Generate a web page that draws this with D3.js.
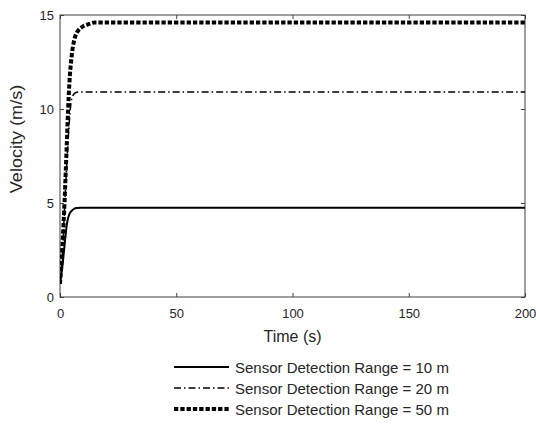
<!DOCTYPE html>
<html><head><meta charset="utf-8">
<script src="https://cdn.jsdelivr.net/npm/d3@7"></script>
<style>
body{margin:0;background:#fff;}
text{font-family:"Liberation Sans",Arial,sans-serif;fill:#262626;}
</style></head>
<body><svg id="c" width="536" height="425"></svg>
<script>
const xTicks=[0,50,100,150,200];
const yTicks=[0,5,10,15];
const seriesNames=["Sensor Detection Range = 10 m","Sensor Detection Range = 20 m","Sensor Detection Range = 50 m"];
const t10=[0,1,2,3,3.5,4,5,6,7,9,200];
const v10=[0.7,1.6,2.8,3.9,4.2,4.4,4.58,4.68,4.73,4.75,4.75];
const t20=[0,1,2,3,4,4.7,5.5,6.5,8,200];
const v20=[0.7,2.2,4.8,7.3,9.3,10.3,10.7,10.85,10.9,10.9];
const t50=[0,1,2,3,3.5,4,5,6,7,8,10,12,15,200];
const v50=[0.7,2.6,5.2,8.4,10,11.3,12.8,13.6,14,14.2,14.4,14.5,14.6,14.6];

const svg=d3.select("#c");
const L=60,R=525,T=15,B=297;
const x=d3.scaleLinear().domain([0,200]).range([L,R]);
const y=d3.scaleLinear().domain([0,15]).range([B,T]);

const axCol="#404040";
const FF="Liberation Sans, Arial, sans-serif";
svg.append("g").attr("transform",`translate(0,${B})`)
 .call(d3.axisBottom(x).tickValues(xTicks).tickSize(-4).tickPadding(12))
 .call(g=>{g.select(".domain").remove();g.selectAll("line").attr("stroke",axCol);g.selectAll("text").attr("font-size",13).attr("font-family",FF).attr("fill","#262626");});
svg.append("g").attr("transform",`translate(0,${T})`)
 .call(d3.axisTop(x).tickValues(xTicks).tickSize(-4).tickFormat(""))
 .call(g=>{g.select(".domain").remove();g.selectAll("line").attr("stroke",axCol);});
svg.append("g").attr("transform",`translate(${L},0)`)
 .call(d3.axisLeft(y).tickValues(yTicks).tickSize(-4).tickPadding(6))
 .call(g=>{g.select(".domain").remove();g.selectAll("line").attr("stroke",axCol);g.selectAll("text").attr("font-size",13).attr("font-family",FF).attr("fill","#262626");});
svg.append("g").attr("transform",`translate(${R},0)`)
 .call(d3.axisRight(y).tickValues(yTicks).tickSize(-4).tickFormat(""))
 .call(g=>{g.select(".domain").remove();g.selectAll("line").attr("stroke",axCol);});
svg.append("rect").attr("x",L).attr("y",T).attr("width",R-L).attr("height",B-T)
 .attr("fill","none").attr("stroke",axCol).attr("stroke-width",1);

const styles=[
 {w:2,dash:null},
 {w:1.5,dash:"7,3,1.5,3"},
 {w:4,dash:"4.3,2"}
];
const data=[d3.zip(t10,v10),d3.zip(t20,v20),d3.zip(t50,v50)];
const line=d3.line().x(d=>x(d[0])).y(d=>y(d[1])).curve(d3.curveMonotoneX);
svg.append("clipPath").attr("id","cp").append("rect").attr("x",L).attr("y",T).attr("width",R-L).attr("height",B-T);
data.forEach((d,i)=>{
 svg.append("path").attr("d",line(d)).attr("fill","none").attr("stroke","#000")
  .attr("stroke-width",styles[i].w).attr("stroke-dasharray",styles[i].dash).attr("clip-path","url(#cp)");
});

svg.append("text").attr("x",(L+R)/2).attr("y",342).attr("text-anchor","middle").attr("font-size",16).text("Time (s)");
svg.append("text").attr("transform",`translate(22,139) rotate(-90) scale(1.13,1)`).attr("text-anchor","middle").attr("font-size",16).text("Velocity (m/s)");

const lg=svg.append("g");
seriesNames.forEach((n,i)=>{
 const yy=367+i*21;
 lg.append("line").attr("x1",174).attr("x2",229).attr("y1",yy).attr("y2",yy).attr("stroke","#000")
  .attr("stroke-width",styles[i].w).attr("stroke-dasharray",styles[i].dash);
 lg.append("text").attr("x",235).attr("y",yy+6).attr("font-size",15).text(n);
});
</script></body></html>
